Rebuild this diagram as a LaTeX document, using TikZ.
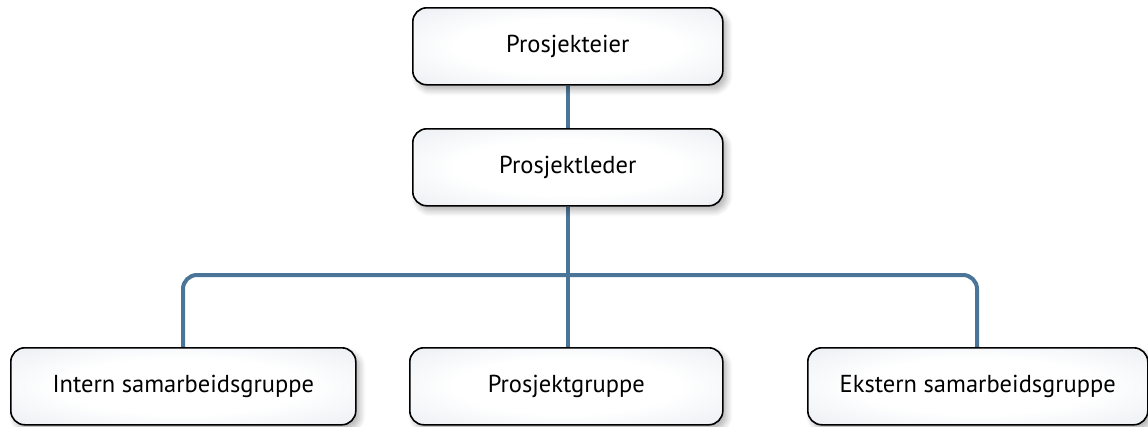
\documentclass[tikz,border=0pt]{standalone}
\usepackage{fontspec}
\setmainfont{PT Sans}
\usetikzlibrary{shadows.blur,backgrounds}
\definecolor{linkblue}{HTML}{4A7498}
\definecolor{boxshade}{HTML}{DCE2EA}
\pgfdeclareradialshading{boxglow}{\pgfpoint{0bp}{0bp}}{%
  color(0bp)=(white); color(18bp)=(white); color(50bp)=(boxshade); color(72bp)=(boxshade)}
\tikzset{
  orgbox/.style={draw=black, line width=1.6pt, rounded corners=14pt,
    shading=boxglow,
    blur shadow={shadow xshift=4pt, shadow yshift=-5pt, shadow blur radius=6pt, shadow blur steps=8, shadow opacity=30},
    anchor=north west, inner sep=0pt, font=\fontsize{24.5}{28}\selectfont},
  link/.style={draw=linkblue, line width=4pt, rounded corners=14pt}
}
\begin{document}
\begin{tikzpicture}[x=1pt,y=-1pt]
\useasboundingbox (0,0) rectangle (1148,426);
\node[orgbox, minimum width=310pt, minimum height=77pt] (eier) at (412,7) {Prosjekteier};
\node[orgbox, minimum width=310pt, minimum height=77pt] (leder) at (412,128) {Prosjektleder};
\node[orgbox, minimum width=345pt, minimum height=77pt] (intern) at (10,347) {Intern samarbeidsgruppe};
\node[orgbox, minimum width=313pt, minimum height=77pt] (gruppe) at (409,347) {Prosjektgruppe};
\node[orgbox, minimum width=340pt, minimum height=77pt] (ekstern) at (807,347) {Ekstern samarbeidsgruppe};
\coordinate (bar) at (leder.south |- 0,275);
\begin{scope}[on background layer]
\draw[link] (eier.south) -- (leder.north);
\draw[link] (leder.south) -- (leder.south |- gruppe.north);
\draw[link] (intern.north -| 183,0) |- (bar) -| (ekstern.north -| 977,0);
\end{scope}
\end{tikzpicture}
\end{document}
